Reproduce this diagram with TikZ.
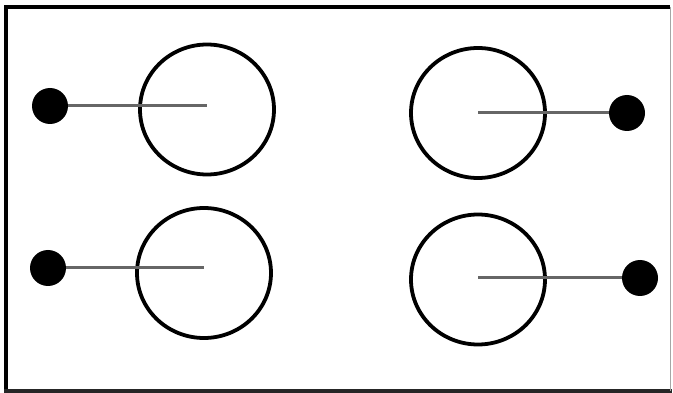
\documentclass[tikz,border=0pt]{standalone}
\usetikzlibrary{shapes.geometric}
\begin{document}
\begin{tikzpicture}[x=1pt,y=-1pt,
  ring/.style={draw=black,line width=3.8pt,ellipse,minimum width=134pt,minimum height=130pt,inner sep=0pt},
  dotnode/.style={fill=black,circle,minimum size=36pt,inner sep=0pt},
  rod/.style={draw=black!60,line width=3pt}]
\useasboundingbox (0,0) rectangle (673,393);
\fill[white] (0,0) rectangle (673,393);
% frame
\draw[black,line width=4.5pt] (6,391) -- (6,7) -- (670,7);
\draw[black!85,line width=3.5pt] (4,391) -- (672,391);
\draw[black!35,line width=1.5pt] (670.5,7) -- (670.5,391);
% circles
\node[ring] (cTL) at (207,109.5) {};
\node[ring] (cTR) at (478,113) {};
\node[ring] (cBL) at (204,273) {};
\node[ring] (cBR) at (478,279.5) {};
% dots
\node[dotnode] (dTL) at (50,106) {};
\node[dotnode] (dTR) at (627,113) {};
\node[dotnode] (dBL) at (48,268) {};
\node[dotnode] (dBR) at (640,278) {};
% rods
\draw[rod] (dTL) -- (dTL -| cTL.center);
\draw[rod] (dTR) -- (dTR -| cTR.center);
\draw[rod] (dBL) -- (dBL -| cBL.center);
\draw[rod] (dBR) -- (dBR -| cBR.center);
\end{tikzpicture}
\end{document}
